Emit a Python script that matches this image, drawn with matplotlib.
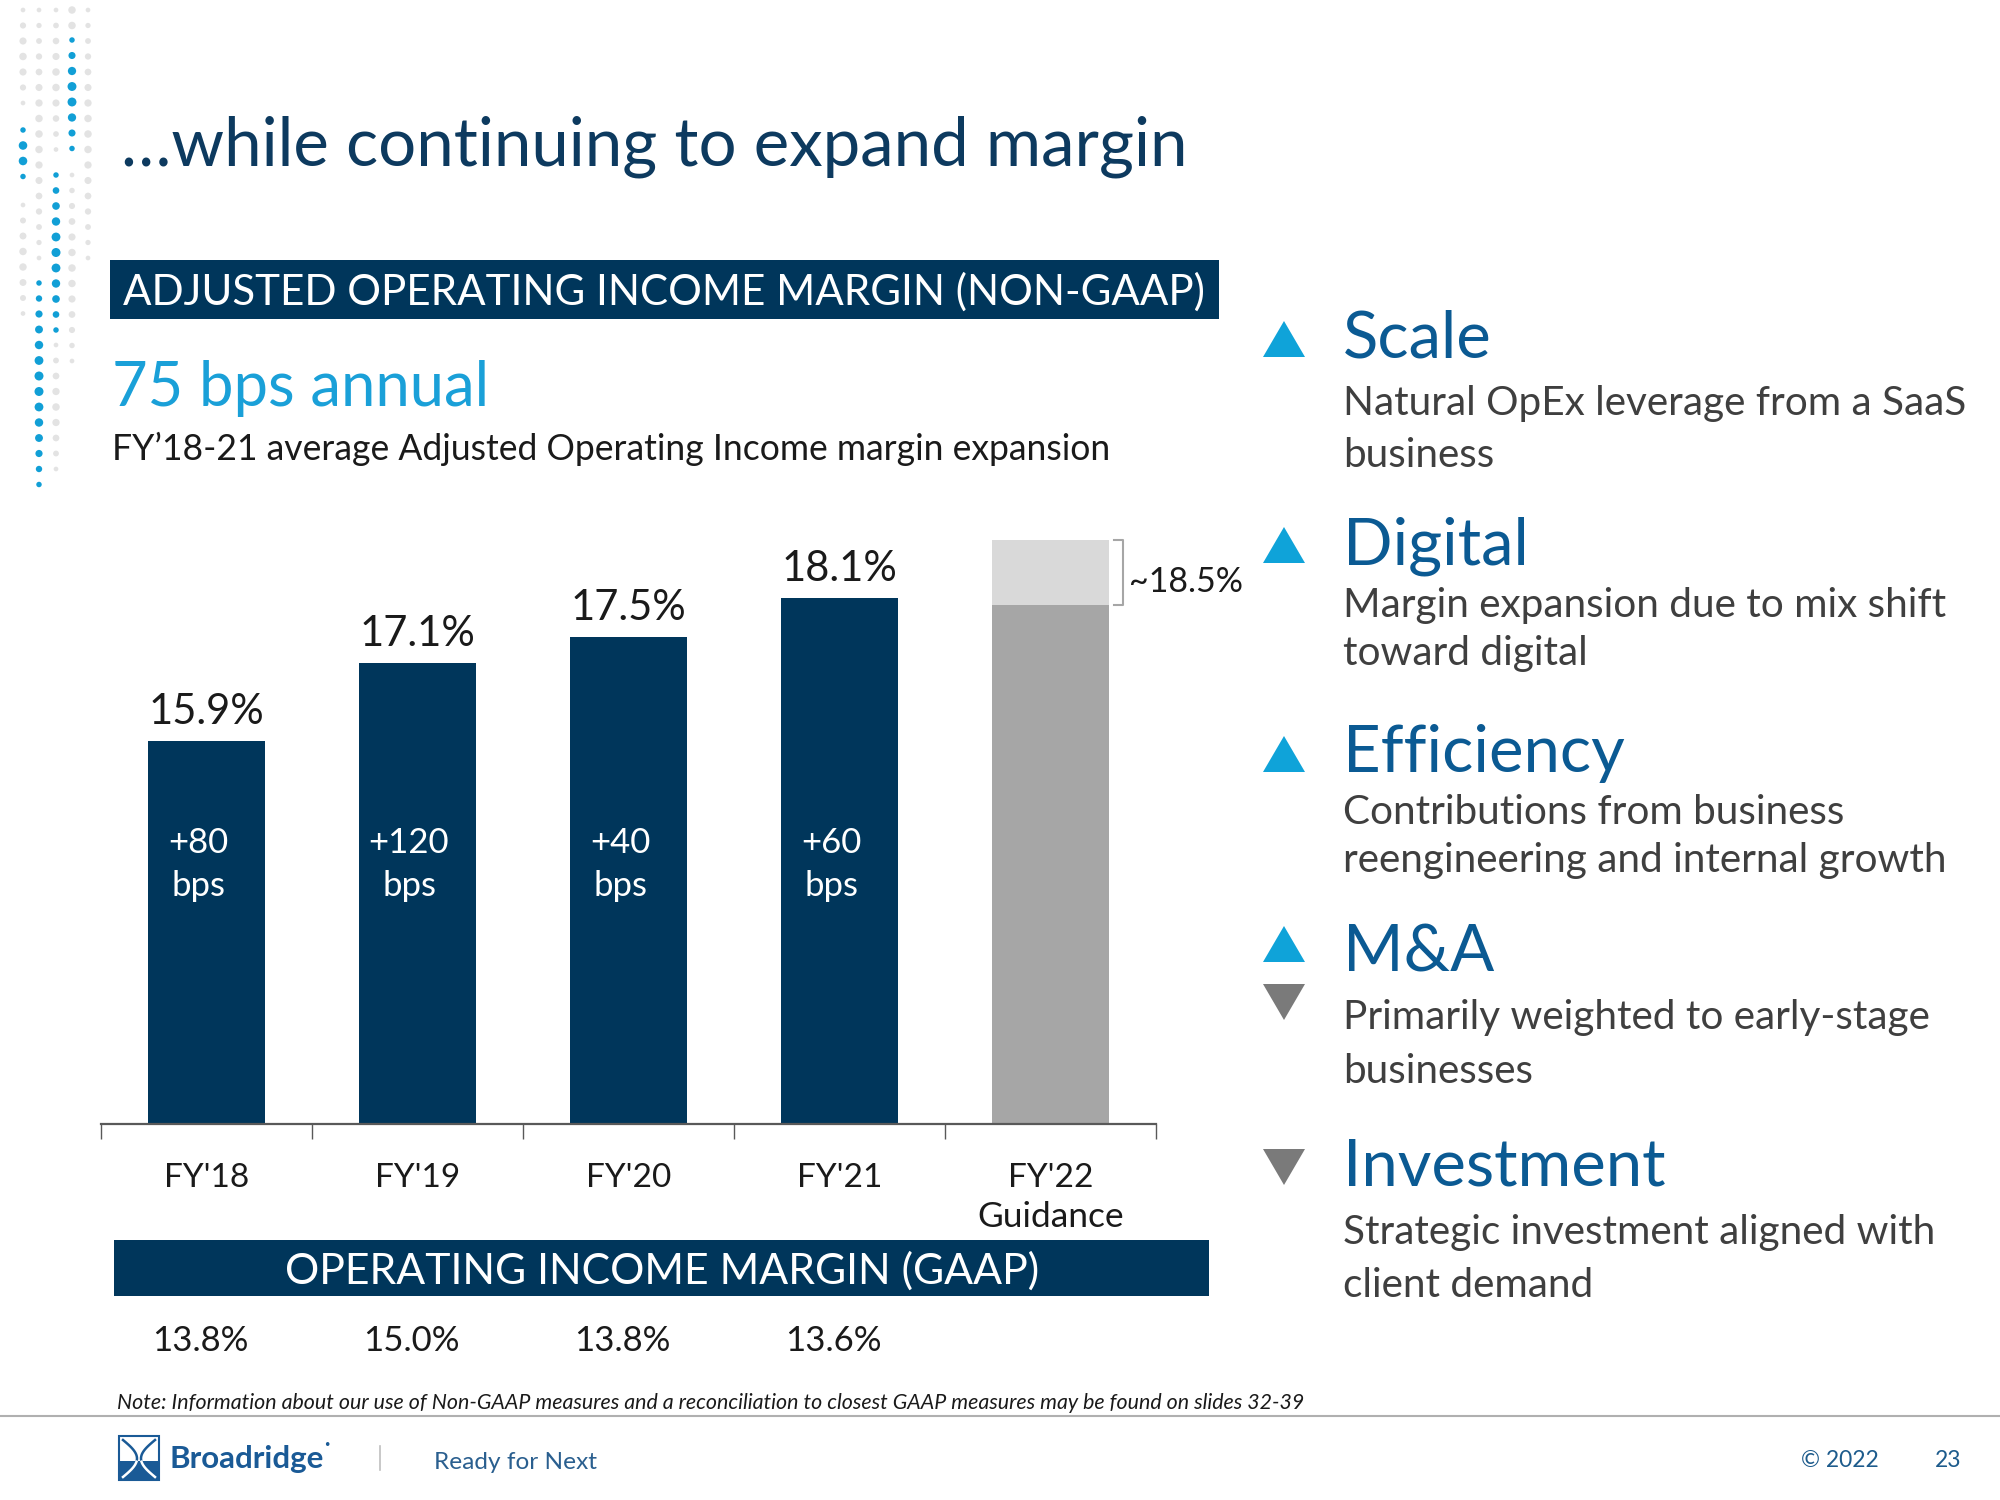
import numpy as np
import matplotlib.pyplot as plt
from matplotlib.patches import Rectangle, Polygon
from matplotlib.transforms import blended_transform_factory

plt.rcParams['font.family'] = ['Lato', 'DejaVu Sans']

# data
years = ["FY'18", "FY'19", "FY'20", "FY'21", "FY'22"]
adj_margin = [15.9, 17.1, 17.5, 18.1]
bps_change = ['+80', '+120', '+40', '+60']
gaap_margin = ['13.8%', '15.0%', '13.8%', '13.6%']
guide_low = 18.0
guide_high = 19.0
guide_label = '~18.5%'

drivers = ['Scale', 'Digital', 'Efficiency', 'M&A', 'Investment']
driver_lines = [['Natural OpEx leverage from a SaaS', 'business'],
                ['Margin expansion due to mix shift', 'toward digital'],
                ['Contributions from business', 'reengineering and internal growth'],
                ['Primarily weighted to early-stage', 'businesses'],
                ['Strategic investment aligned with', 'client demand']]
driver_dirs = [['up'], ['up'], ['up'], ['up', 'down'], ['down']]

NAVY = '#00365b'
TITLE = '#0d3a5f'
LIGHTBLUE = '#1aa0d8'
HEADBLUE = '#0b5a93'
GREYTXT = '#3f3f3f'
TRI_BLUE = '#0fa3d9'
TRI_GREY = '#7a7a7a'

fig = plt.figure(figsize=(20, 15), dpi=100)
bg = fig.add_axes([0, 0, 1, 1])
bg.set_xlim(0, 2000)
bg.set_ylim(1500, 0)
bg.axis('off')

# decorative dots on the left
dot_cols = [
    (23, [(10, 115, 'g'), (130, 190, 'b'), (205, 325, 'g')]),
    (39, [(10, 270, 'g'), (283, 498, 'b')]),
    (56, [(10, 160, 'g'), (175, 331, 'b'), (345, 470, 'g')]),
    (72, [(10, 25, 'g'), (40, 160, 'b'), (175, 370, 'g')]),
    (88, [(10, 270, 'g')]),
]
for cx, segs in dot_cols:
    for y0, y1, c in segs:
        ys = np.arange(y0, y1 + 1, 15.5)
        n = len(ys)
        prof = np.sin(np.linspace(0.3, np.pi - 0.3, n)) if n > 2 else np.ones(n)
        if c == 'b':
            d = 4 + 5 * prof
            col = '#119fd6'
        else:
            d = 3.5 + 4 * prof
            col = '#e3e3e3'
        bg.scatter(np.full(n, cx), ys, s=(d * 0.72) ** 2, color=col, lw=0)

# title and headers
bg.text(121, 165, '\u2026while continuing to expand margin', fontsize=48.3,
        color=TITLE, va='baseline')
bg.add_patch(Rectangle((110, 260), 1109, 59, color=NAVY, lw=0))
bg.text(664, 305, 'ADJUSTED OPERATING INCOME MARGIN (NON-GAAP)', fontsize=30.3,
        color='white', ha='center', va='baseline')
bg.text(112, 406, '75 bps annual', fontsize=44.3, color=LIGHTBLUE, va='baseline')
bg.text(112, 460, 'FY\u201918-21 average Adjusted Operating Income margin expansion',
        fontsize=25.6, color='#1a1a1a', va='baseline')

bg.add_patch(Rectangle((114, 1240), 1095, 56, color=NAVY, lw=0))
bg.text(662, 1284, 'OPERATING INCOME MARGIN (GAAP)', fontsize=30.8,
        color='white', ha='center', va='baseline')

# bar chart
ax = fig.add_axes([101 / 2000, 1 - 1124 / 1500, 1055 / 2000, 649 / 1500])
ax.patch.set_alpha(0)
x = np.arange(len(adj_margin))
base = 10
ax.bar(x, np.array(adj_margin) - base, bottom=base, width=0.555, color=NAVY)
ax.bar(4, guide_low - base, bottom=base, width=0.555, color='#a6a6a6')
ax.bar(4, guide_high - guide_low, bottom=guide_low, width=0.555, color='#d9d9d9')
ax.set_xlim(-0.5, 4.5)
ax.set_ylim(base, 20)
for s in ['left', 'top', 'right']:
    ax.spines[s].set_visible(False)
ax.spines['bottom'].set_color('#595959')
ax.spines['bottom'].set_linewidth(1.6)
ax.set_yticks([])
ax.set_xticks(np.arange(-0.5, 5, 1))
ax.tick_params(axis='x', length=11, width=1, color='#595959', labelbottom=False)

for i, v in enumerate(adj_margin):
    ax.text(i, v + 0.27, f'{v}%', fontsize=30, ha='center', va='baseline', color='#1a1a1a')
    ax.text(i - 0.04, 14.18, bps_change[i], fontsize=25, ha='center', va='baseline', color='white')
    ax.text(i - 0.04, 13.52, 'bps', fontsize=25, ha='center', va='baseline', color='white')

ax.plot([4.30, 4.345, 4.345, 4.30], [guide_low, guide_low, guide_high, guide_high],
        color='#a6a6a6', lw=1.5, clip_on=False)
ax.text(4.37, 18.2, guide_label, fontsize=24.5, ha='left', va='baseline', color='#1a1a1a')

trans = blended_transform_factory(ax.transData, bg.transData)
for i, lab in enumerate(years):
    ax.text(i, 1187, lab, fontsize=24, ha='center', va='baseline', color='#1a1a1a', transform=trans)
ax.text(4, 1227, 'Guidance', fontsize=25.5, ha='center', va='baseline', color='#1a1a1a', transform=trans)
for i, lab in enumerate(gaap_margin):
    ax.text(i - 0.03, 1351, lab, fontsize=25, ha='center', va='baseline', color='#1a1a1a', transform=trans)

# right-hand drivers
head_base = [358, 565, 772, 972, 1186]
line_base = [(415, 467), (617, 665), (824, 872), (1029, 1083), (1244, 1297)]
tri_pos = [[339], [545], [754], [944, 1002], [1167]]
for k, name in enumerate(drivers):
    bg.text(1343, head_base[k], name, fontsize=47, color=HEADBLUE, va='baseline')
    for ln, yb in zip(driver_lines[k], line_base[k]):
        bg.text(1343, yb, ln, fontsize=29.2, color=GREYTXT, va='baseline')
    for d, ty in zip(driver_dirs[k], tri_pos[k]):
        cx = 1284
        if d == 'up':
            pts = [(cx - 21, ty + 18), (cx + 21, ty + 18), (cx, ty - 18)]
            bg.add_patch(Polygon(pts, color=TRI_BLUE, lw=0))
        else:
            pts = [(cx - 21, ty - 18), (cx + 21, ty - 18), (cx, ty + 18)]
            bg.add_patch(Polygon(pts, color=TRI_GREY, lw=0))

# footer
bg.text(117, 1409, 'Note: Information about our use of Non-GAAP measures and a reconciliation '
        'to closest GAAP measures may be found on slides 32-39',
        fontsize=15.4, style='italic', color='#1a1a1a', va='baseline')
bg.plot([0, 2000], [1416, 1416], color='#b0b0b0', lw=1.5)

# logo
bg.add_patch(Rectangle((119, 1436), 40, 44, facecolor='white', edgecolor='#1a5a96', lw=1.5))
bg.add_patch(Rectangle((119, 1461), 40, 19, color='#1a5a96', lw=0))
tt = np.linspace(0, 1, 30)
for sgn in [-1, 1]:
    xs = 139 + sgn * (14 * (1 - np.sin(np.pi * tt)) + 2)
    ys = 1440 + 37 * tt
    top = ys <= 1461
    bg.plot(xs[top], ys[top], color='#1a5a96', lw=1.8)
    bg.plot(xs[~top], ys[~top], color='white', lw=1.8)
bg.text(170, 1468, 'Broadridge', fontsize=22.6, fontweight='bold', color='#1a5a96', va='baseline')
bg.text(324, 1450, '\u00b7', fontsize=14, fontweight='bold', color='#1a5a96', va='baseline')
bg.plot([380, 380], [1446, 1470], color='#bfbfbf', lw=1.2)
bg.text(434, 1469, 'Ready for Next', fontsize=17.6, color='#2a5f8f', va='baseline')
bg.text(1801, 1467, '\u00a9 2022', fontsize=16.5, color='#1d5b8c', va='baseline')
bg.text(1935, 1467, '23', fontsize=16.5, color='#1d5b8c', va='baseline')

fig.savefig('out.png', dpi=100)
